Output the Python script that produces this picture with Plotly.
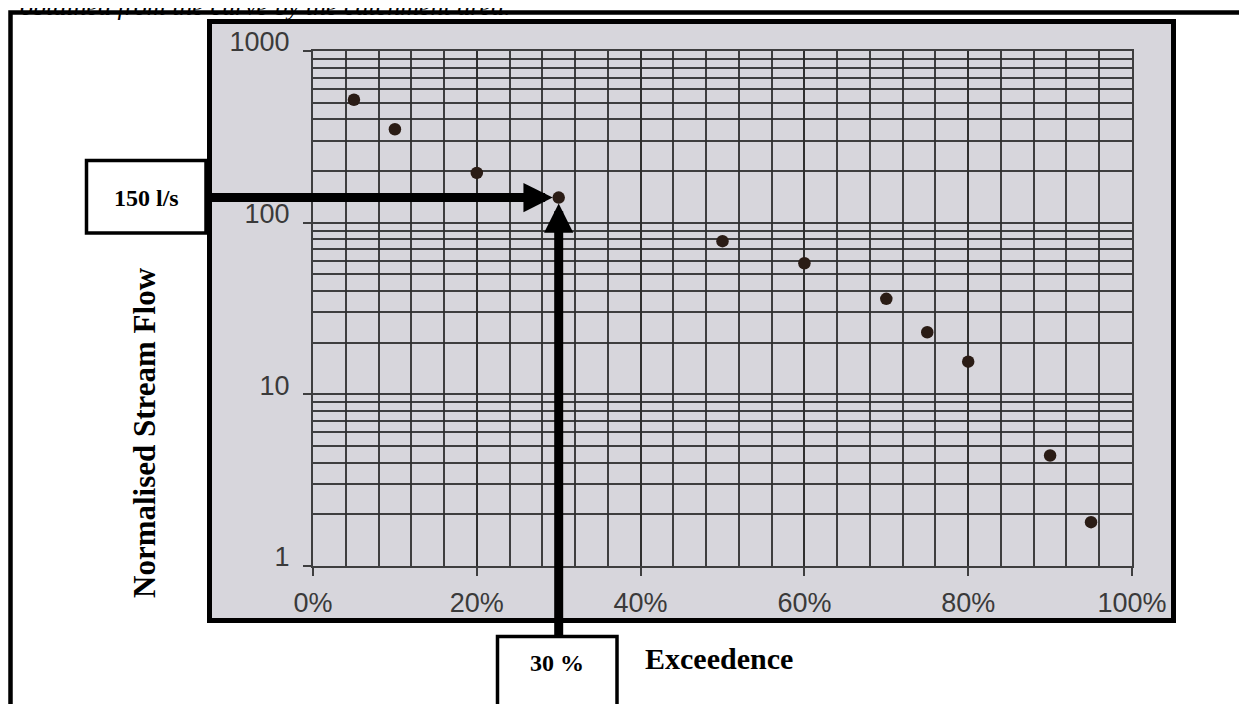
import math
import plotly.graph_objects as go

# ---- data ----
exceedence_pct = [5, 10, 20, 30, 50, 60, 70, 75, 80, 90, 95]
stream_flow = [520, 350, 195, 140, 78, 58, 36, 23, 15.5, 4.4, 1.8]

x_tick_vals = [0, 20, 40, 60, 80, 100]
x_tick_text = ["0%", "20%", "40%", "60%", "80%", "100%"]
y_tick_vals = [1, 10, 100, 1000]
y_tick_text = ["1", "10", "100", "1000"]
y_minor_vals = [m * d for d in (1, 10, 100) for m in range(2, 10)]

highlight_x = 30
highlight_y = 140
flow_label = "150 l/s"
exceed_label = "30 %"
x_title = "Exceedence"
y_title = "Normalised Stream Flow"
top_text = "obtained from the curve by the catchment area."

# ---- layout geometry ----
# the page body adds an 8 px margin, so the figure is drawn 8 px in from the window corner
OFF = 8
W, H = 1247 - OFF, 704 - OFF
# plot area in window pixels
SL, SR, ST, SB = 313, 1132, 51, 566
L, R, T, B = SL - OFF, SR - OFF, ST - OFF, SB - OFF
PW, PH = R - L, B - T


def fx(sx):
    """window x pixel -> paper fraction"""
    return (sx - OFF - L) / PW


def fy(sy):
    """window y pixel -> paper fraction"""
    return (B - (sy - OFF)) / PH


GRID = "rgba(45,45,45,0.9)"
PHOTO = "#d7d6dc"

fig = go.Figure()
fig.add_trace(go.Scatter(
    x=exceedence_pct, y=stream_flow, mode="markers",
    marker=dict(size=12.5, color="#2a1c15"),
    showlegend=False, cliponaxis=False,
))

shapes = [
    # outer document frame
    dict(type="rect", xref="paper", yref="paper",
         x0=fx(10.5), x1=fx(1262), y0=fy(12.5), y1=fy(720),
         line=dict(color="black", width=4.5), fillcolor="white", layer="below"),
    # photo of the chart
    dict(type="rect", xref="paper", yref="paper",
         x0=fx(209.5), x1=fx(1173.5), y0=fy(21.5), y1=fy(620.5),
         line=dict(color="black", width=5), fillcolor=PHOTO, layer="below"),
    # label boxes
    dict(type="rect", xref="paper", yref="paper",
         x0=fx(86.5), x1=fx(206), y0=fy(160.5), y1=fy(233),
         line=dict(color="black", width=3.5), fillcolor="white", layer="above"),
    dict(type="rect", xref="paper", yref="paper",
         x0=fx(497.5), x1=fx(617), y0=fy(636.5), y1=fy(720),
         line=dict(color="black", width=3.5), fillcolor="white", layer="above"),
]

serif = "Liberation Serif, Times New Roman, serif"
# window pixel position of the highlighted point
px_x = SL + highlight_x / 100 * (SR - SL)
px_y = SB - math.log10(highlight_y) / 3 * (SB - ST)

annotations = [
    # horizontal arrow from flow box to the point
    dict(x=highlight_x, y=math.log10(highlight_y), xref="x", yref="y",
         text="", showarrow=True, arrowhead=2, arrowwidth=9, arrowsize=0.65,
         arrowcolor="black", ax=206 - px_x, ay=0, standoff=6),
    # vertical arrow from exceedence box to the point
    dict(x=highlight_x, y=math.log10(highlight_y), xref="x", yref="y",
         text="", showarrow=True, arrowhead=2, arrowwidth=9, arrowsize=0.65,
         arrowcolor="black", ax=0, ay=637 - px_y, standoff=6),
    dict(x=fx(146), y=fy(198), xref="paper", yref="paper", text=f"<b>{flow_label}</b>",
         xanchor="center", yanchor="middle",
         showarrow=False, font=dict(family=serif, size=24, color="black")),
    dict(x=fx(557), y=fy(663), xref="paper", yref="paper", text=f"<b>{exceed_label}</b>",
         xanchor="center", yanchor="middle",
         showarrow=False, font=dict(family=serif, size=24, color="black")),
    dict(x=fx(643), y=fy(658), xref="paper", yref="paper", text=f"<b>{x_title}</b>",
         xanchor="left", yanchor="middle",
         showarrow=False, font=dict(family=serif, size=30, color="black")),
    dict(x=fx(144), y=fy(433), xref="paper", yref="paper", text=f"<b>{y_title}</b>",
         xanchor="center", yanchor="middle",
         textangle=-90, showarrow=False, font=dict(family=serif, size=31, color="black")),
    dict(x=fx(18), y=fy(-10), xref="paper", yref="paper", text=f"<i>{top_text}</i>",
         xanchor="left", yanchor="top",
         showarrow=False, font=dict(family=serif, size=26, color="black")),
]

tickfont = dict(family="Liberation Sans, Arial, sans-serif", size=27, color="#3a3a3a")

fig.update_layout(
    width=W, height=H,
    margin=dict(l=L, r=W - R, t=T, b=H - B, pad=0),
    paper_bgcolor="white", plot_bgcolor=PHOTO,
    shapes=shapes, annotations=annotations,
    xaxis=dict(
        range=[0, 100], tickvals=x_tick_vals, ticktext=x_tick_text,
        showgrid=True, gridcolor=GRID, gridwidth=1.8,
        minor=dict(dtick=4, showgrid=True, gridcolor=GRID, gridwidth=1.8, ticks=""),
        ticks="outside", ticklen=8, tickcolor=GRID, tickwidth=1.5,
        tickfont=tickfont, ticklabelstandoff=4,
        showline=True, mirror=True, linecolor=GRID, linewidth=2,
        zeroline=False, fixedrange=True,
    ),
    yaxis=dict(
        type="log", range=[0, 3], tickvals=y_tick_vals, ticktext=y_tick_text,
        showgrid=True, gridcolor=GRID, gridwidth=1.8,
        minor=dict(tickvals=y_minor_vals, showgrid=True, gridcolor=GRID, gridwidth=1.6, ticks=""),
        ticks="outside", ticklen=8, tickcolor=GRID, tickwidth=1.5,
        tickfont=tickfont, ticklabelstandoff=8, ticklabelshift=-9,
        showline=True, mirror=True, linecolor=GRID, linewidth=2,
        zeroline=False, fixedrange=True,
    ),
)

fig.write_html("out.html")
